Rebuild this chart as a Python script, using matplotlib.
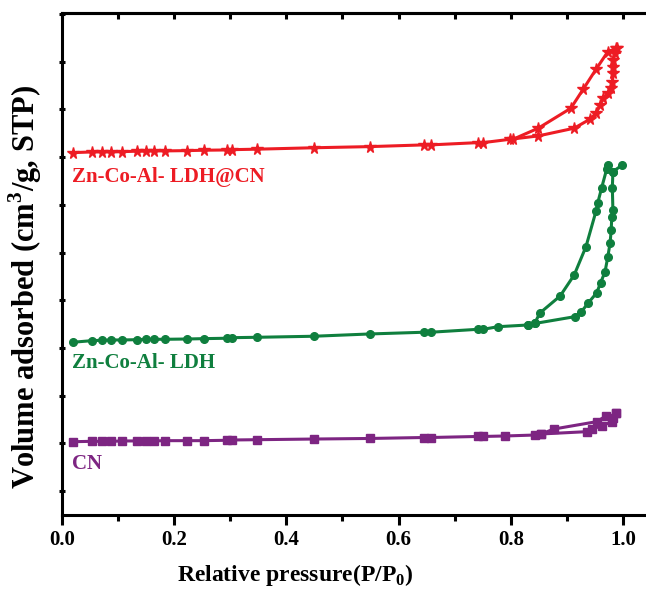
import numpy as np
import matplotlib
matplotlib.use("Agg")
import matplotlib.pyplot as plt
from matplotlib.ticker import MultipleLocator, NullFormatter, FixedLocator

# N2 adsorption-desorption isotherms (y in arbitrary offset units)
x_low = [0.019, 0.054, 0.072, 0.088, 0.107, 0.133, 0.149, 0.164, 0.183, 0.222,
         0.253, 0.294, 0.303, 0.347, 0.449, 0.549, 0.645, 0.657, 0.742, 0.751]

cn_low = [76.8, 77.2, 77.2, 77.2, 77.6, 77.6, 77.6, 77.6, 77.9, 77.9,
          77.9, 78.3, 78.6, 78.9, 79.6, 80.2, 81.2, 81.2, 82.3, 82.3]
cn_ads_x = [0.790, 0.843, 0.854, 0.935, 0.944, 0.962, 0.980, 0.987]
cn_ads_y = [82.8, 83.8, 84.9, 87.3, 90.1, 93.3, 97.8, 106.9]
cn_des_x = [0.987, 0.982, 0.970, 0.953, 0.877, 0.854]
cn_des_y = [106.9, 101.7, 103.8, 97.8, 90.1, 84.9]

ldh_low = [181.0, 182.7, 183.1, 183.4, 183.4, 183.7, 184.1, 184.1, 184.1, 184.4,
           184.8, 185.2, 185.8, 186.2, 187.3, 189.7, 191.5, 191.5, 194.6, 194.6]
ldh_ads_x = [0.777, 0.831, 0.843, 0.914, 0.926, 0.938, 0.953, 0.960, 0.968, 0.973,
             0.977, 0.979, 0.980, 0.982, 0.981, 0.982, 0.999]
ldh_ads_y = [197.3, 199.1, 200.7, 207.8, 213.1, 222.2, 232.7, 243.1, 255.0, 270.7,
             285.1, 298.8, 312.6, 319.6, 342.7, 359.8, 366.8]
ldh_des_x = [0.982, 0.973, 0.971, 0.962, 0.955, 0.952, 0.934, 0.913, 0.888, 0.852,
             0.843, 0.831]
ldh_des_y = [359.8, 366.8, 362.6, 343.0, 327.0, 318.6, 281.2, 251.5, 229.5, 211.7,
             201.5, 199.1]

cat_low = [379.7, 380.4, 380.4, 380.4, 380.7, 381.2, 381.2, 381.5, 381.5, 381.8,
           382.2, 382.5, 382.8, 383.3, 384.8, 386.0, 387.8, 387.8, 390.2, 390.2]
cat_ads_x = [0.799, 0.849, 0.913, 0.941, 0.952, 0.959, 0.965, 0.973, 0.979, 0.981,
             0.983, 0.982, 0.983, 0.986, 0.989]
cat_ads_y = [393.7, 397.2, 405.3, 414.7, 421.0, 429.7, 436.7, 441.9, 447.2, 454.1,
             462.9, 469.8, 476.8, 483.9, 489.1]
cat_des_x = [0.988, 0.973, 0.952, 0.929, 0.907, 0.849, 0.804]
cat_des_y = [489.1, 485.5, 467.1, 446.1, 426.2, 405.3, 393.7]

plt.rcParams['font.family'] = ['Liberation Serif', 'DejaVu Serif']
plt.rcParams['font.weight'] = 'bold'
plt.rcParams['mathtext.fontset'] = 'custom'
plt.rcParams['mathtext.rm'] = 'Liberation Serif:bold'
plt.rcParams['mathtext.bf'] = 'Liberation Serif:bold'

red = '#ED1C24'
green = '#0F7F3E'
purple = '#7D2582'

fig = plt.figure(figsize=(6.46, 5.96), dpi=100)
ax = fig.add_axes([62 / 646, 81 / 596, 584 / 646, 502 / 596])

series = [
    (cn_low, cn_ads_x, cn_ads_y, cn_des_x, cn_des_y, purple, 's', 5.5),
    (ldh_low, ldh_ads_x, ldh_ads_y, ldh_des_x, ldh_des_y, green, 'o', 5.5),
    (cat_low, cat_ads_x, cat_ads_y, cat_des_x, cat_des_y, red, '*', 8.5),
]
for low, ax_x, ax_y, dx, dy, c, m, ms in series:
    ads_x = list(x_low) + ax_x
    ads_y = list(low) + ax_y
    ax.plot(ads_x, ads_y, color=c, marker=m, ms=ms, lw=2.2, mec=c, mfc=c)
    ax.plot(dx, dy, color=c, marker=m, ms=ms, lw=2.2, mec=c, mfc=c)

ax.text(0.018, 354, 'Zn-Co-Al- LDH@CN', color=red, fontsize=15, fontweight='bold', va='center')
ax.text(0.018, 159, 'Zn-Co-Al- LDH', color=green, fontsize=15, fontweight='bold', va='center')
ax.text(0.018, 53, 'CN', color=purple, fontsize=15, fontweight='bold', va='center')

ax.set_xlim(0, 1.041)
ax.set_ylim(0, 526)
ax.xaxis.set_major_locator(MultipleLocator(0.2))
ax.xaxis.set_minor_locator(MultipleLocator(0.1))
ax.yaxis.set_major_locator(FixedLocator(np.arange(25, 530, 50)))
ax.yaxis.set_major_formatter(NullFormatter())

for s in ['left', 'bottom', 'top']:
    ax.spines[s].set_linewidth(2.2)
ax.spines['right'].set_visible(False)

ax.tick_params(axis='x', which='major', direction='out', length=7, width=2.2,
               labelsize=15, pad=4)
ax.tick_params(axis='x', which='minor', direction='out', length=4, width=2.2)
ax.tick_params(axis='y', which='major', direction='inout', length=4, width=2.2)

# small inward ticks along the top spine
top = ax.secondary_xaxis('top')
top.xaxis.set_major_locator(MultipleLocator(0.1))
top.tick_params(direction='in', length=4, width=2.2, labeltop=False)
top.spines['top'].set_linewidth(2.2)

ax.set_xlabel(r'Relative pressure(P/P$_{0}$)', fontsize=17, fontweight='bold')
ax.xaxis.set_label_coords(0.40, -0.093)
ax.set_ylabel('Volume adsorbed (cm$^{3}$/g, STP)', fontsize=22, fontweight='bold')
ax.yaxis.set_label_coords(-0.030, 0.455)

fig.savefig('out.png', dpi=100)
